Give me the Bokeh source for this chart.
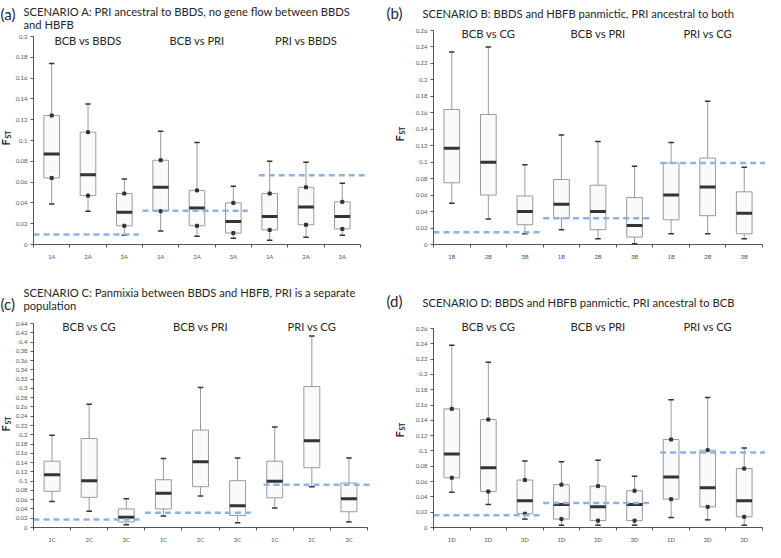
import math
from bokeh.plotting import figure
from bokeh.layouts import gridplot
from bokeh.models import Range1d, FixedTicker, CustomJSTickFormatter, Label, ColumnDataSource
from bokeh.embed import file_html
from bokeh.resources import INLINE

# ---------------- data ----------------
GROUPS_A = ["BCB vs BBDS", "BCB vs PRI", "PRI vs BBDS"]
GROUPS_BCD = ["BCB vs CG", "BCB vs PRI", "PRI vs CG"]

A_TICKS = ["1A", "2A", "3A", "1A", "2A", "3A", "1A", "2A", "3A"]
A_LO  = [0.039, 0.032, 0.009, 0.013, 0.008, 0.006, 0.004, 0.007, 0.009]
A_Q1  = [0.064, 0.047, 0.018, 0.032, 0.018, 0.011, 0.014, 0.019, 0.015]
A_MED = [0.087, 0.067, 0.031, 0.055, 0.035, 0.022, 0.027, 0.036, 0.027]
A_Q3  = [0.124, 0.108, 0.049, 0.081, 0.052, 0.040, 0.049, 0.055, 0.041]
A_HI  = [0.174, 0.135, 0.063, 0.109, 0.098, 0.056, 0.080, 0.079, 0.059]
A_NULL = [0.0095, 0.0325, 0.0665]

B_TICKS = ["1B", "2B", "3B", "1B", "2B", "3B", "1B", "2B", "3B"]
B_LO  = [0.050, 0.031, 0.013, 0.018, 0.007, 0.001, 0.013, 0.013, 0.007]
B_Q1  = [0.075, 0.060, 0.024, 0.032, 0.018, 0.009, 0.030, 0.035, 0.013]
B_MED = [0.117, 0.100, 0.040, 0.049, 0.040, 0.023, 0.060, 0.070, 0.038]
B_Q3  = [0.164, 0.158, 0.059, 0.079, 0.072, 0.057, 0.099, 0.105, 0.064]
B_HI  = [0.234, 0.240, 0.097, 0.133, 0.125, 0.095, 0.124, 0.174, 0.094]
B_NULL = [0.015, 0.032, 0.099]

C_TICKS = ["1C", "2C", "3C", "1C", "2C", "3C", "1C", "2C", "3C"]
C_LO  = [0.056, 0.035, 0.006, 0.025, 0.068, 0.010, 0.042, 0.088, 0.012]
C_Q1  = [0.078, 0.065, 0.012, 0.040, 0.088, 0.026, 0.064, 0.129, 0.034]
C_MED = [0.114, 0.101, 0.022, 0.074, 0.142, 0.047, 0.100, 0.187, 0.062]
C_Q3  = [0.143, 0.192, 0.040, 0.103, 0.210, 0.101, 0.143, 0.304, 0.096]
C_HI  = [0.199, 0.266, 0.062, 0.149, 0.302, 0.150, 0.217, 0.413, 0.150]
C_NULL = [0.017, 0.032, 0.092]

D_TICKS = ["1D", "2D", "3D", "1D", "2D", "3D", "1D", "2D", "3D"]
D_LO  = [0.046, 0.030, 0.011, 0.003, 0.003, 0.003, 0.013, 0.010, 0.003]
D_Q1  = [0.065, 0.047, 0.018, 0.011, 0.009, 0.009, 0.037, 0.027, 0.014]
D_MED = [0.096, 0.078, 0.035, 0.030, 0.027, 0.030, 0.066, 0.052, 0.035]
D_Q3  = [0.155, 0.141, 0.062, 0.056, 0.054, 0.048, 0.115, 0.101, 0.077]
D_HI  = [0.238, 0.216, 0.087, 0.086, 0.088, 0.067, 0.167, 0.170, 0.104]
D_NULL = [0.016, 0.032, 0.098]

FONT = "Lato"
TXT = "#262626"


def make_panel(letter, title_lines, groups, ticks, lo, q1, med, q3, hi, null, ymax,
               W, H, pxL, pxR, pyT, pyB, letter_pos, title_pos, title_dy,
               group_y, fst_pos, dots):
    sx = 9.0 / (pxR - pxL)
    sy = ymax / (pyB - pyT)
    x_lo = -pxL * sx
    x_hi = 9 + (W - pxR) * sx
    y_lo = -(H - pyB) * sy
    y_hi = ymax + pyT * sy
    p = figure(width=W, height=H, output_backend="svg", toolbar_location=None,
               x_range=Range1d(x_lo, x_hi), y_range=Range1d(y_lo, y_hi), min_border=0)
    p.outline_line_color = None
    p.background_fill_color = "white"
    p.border_fill_color = "white"
    p.xgrid.visible = False
    p.ygrid.visible = False

    n = len(med)
    xs = [i + 0.5 for i in range(n)]
    bw = 0.43
    cw = 0.075
    src = ColumnDataSource(dict(x=xs, lo=lo, q1=q1, med=med, q3=q3, hi=hi,
                                xl=[x - bw / 2 for x in xs], xr=[x + bw / 2 for x in xs],
                                cl=[x - cw for x in xs], cr=[x + cw for x in xs]))
    p.segment(x0="x", y0="lo", x1="x", y1="hi", source=src, line_color="#9a9a9a", line_width=1)
    p.vbar(x="x", width=bw, bottom="q1", top="q3", source=src, fill_color="#fafafa",
           line_color="#9a9a9a", line_width=1)
    p.segment(x0="xl", y0="med", x1="xr", y1="med", source=src, line_color="#333333", line_width=3)
    p.segment(x0="cl", y0="lo", x1="cr", y1="lo", source=src, line_color="#333333", line_width=1.5)
    p.segment(x0="cl", y0="hi", x1="cr", y1="hi", source=src, line_color="#333333", line_width=1.5)
    if dots:
        p.scatter(x="x", y="q1", source=src, marker="square", size=3, color="#333333")
        p.scatter(x="x", y="q3", source=src, marker="square", size=3, color="#333333")

    nx0 = [0.0, 3.0, 6.2]
    nx1 = [2.9, 5.9, 9.12]
    p.segment(x0=nx0, y0=null, x1=nx1, y1=null, line_color="#8db3e2", line_width=2.5,
              line_dash="6 4")

    nt = int(round(ymax / 0.02))
    yt = [round(k * 0.02, 2) for k in range(nt + 1)]
    ya = p.yaxis[0]
    ya.fixed_location = 0
    ya.bounds = (0, ymax)
    ya.ticker = FixedTicker(ticks=yt)
    ya.formatter = CustomJSTickFormatter(code="return (Math.round(tick*100)/100).toString();")
    ya.major_label_text_font_size = "6px"
    ya.major_label_text_color = "#555555"
    ya.major_label_text_font = FONT
    ya.major_tick_out = 3
    ya.major_tick_in = 0
    ya.minor_tick_out = 0
    ya.minor_tick_in = 0
    ya.axis_line_color = "#555555"
    ya.major_tick_line_color = "#555555"
    ya.major_label_standoff = 3

    xa = p.xaxis[0]
    xa.fixed_location = 0
    xa.bounds = (0, 9)
    xa.ticker = FixedTicker(ticks=xs, minor_ticks=list(range(n + 1)))
    xa.major_label_overrides = {x: t for x, t in zip(xs, ticks)}
    xa.major_label_text_font_size = "6px"
    xa.major_label_text_color = "#555555"
    xa.major_label_text_font = FONT
    xa.major_tick_out = 0
    xa.major_tick_in = 0
    xa.minor_tick_out = 3
    xa.minor_tick_in = 0
    xa.minor_tick_line_color = "#555555"
    xa.axis_line_color = "#555555"
    xa.major_label_standoff = 5

    def txt(fx, fy, text, size, style="normal", align="left", baseline="alphabetic",
            angle=0.0, color=TXT):
        p.add_layout(Label(x=0, y=ymax, x_units="data", y_units="data",
                           x_offset=fx - pxL, y_offset=pyT - fy, text=text,
                           text_font=FONT, text_font_size=size, text_font_style=style,
                           text_align=align, text_baseline=baseline, angle=angle,
                           text_color=color))

    txt(letter_pos[0], letter_pos[1], letter, "15px")
    for i, line in enumerate(title_lines):
        txt(title_pos[0], title_pos[1] + i * title_dy, line, "11.2px")
    fw = pxR - pxL
    for g, name in enumerate(groups):
        cx = pxL + (g * 3 + 1.5) / 9 * fw
        txt(cx, group_y, name, "11.2px", align="center")
    fx, fy = fst_pos
    txt(fx, fy, "F", "11px", style="bold", align="center", baseline="middle", angle=math.pi / 2)
    txt(fx + 2, fy - 8, "ST", "7px", style="bold", align="center", baseline="middle",
        angle=math.pi / 2)
    return p


pA = make_panel("(a)", ["SCENARIO A: PRI ancestral to BBDS, no gene flow between BBDS", "and HBFB"],
                GROUPS_A, A_TICKS, A_LO, A_Q1, A_MED, A_Q3, A_HI, A_NULL, 0.2,
                382, 268, 33, 360, 36, 244, (0, 13), (23, 11), 13, 40, (5, 142), True)
pB = make_panel("(b)", ["SCENARIO B: BBDS and HBFB panmictic, PRI ancestral to both"],
                GROUPS_BCD, B_TICKS, B_LO, B_Q1, B_MED, B_Q3, B_HI, B_NULL, 0.26,
                383, 268, 51, 380, 30, 244, (4, 12), (40, 13), 13, 33, (17, 138), False)
pC = make_panel("(c)", ["SCENARIO C: Panmixia between BBDS and HBFB, PRI is a separate", "population"],
                GROUPS_BCD, C_TICKS, C_LO, C_Q1, C_MED, C_Q3, C_HI, C_NULL, 0.44,
                382, 274, 33, 367, 55, 259, (0, 35), (23, 24), 13, 58, (5, 160), False)
pD = make_panel("(d)", ["SCENARIO D: BBDS and HBFB panmictic, PRI ancestral to BCB"],
                GROUPS_BCD, D_TICKS, D_LO, D_Q1, D_MED, D_Q3, D_HI, D_NULL, 0.26,
                383, 274, 51, 380, 60, 259, (4, 32), (40, 34), 13, 58, (17, 166), True)

grid = gridplot([[pA, pB], [pC, pD]], toolbar_location=None)
open("out.html", "w").write(file_html(grid, INLINE))
